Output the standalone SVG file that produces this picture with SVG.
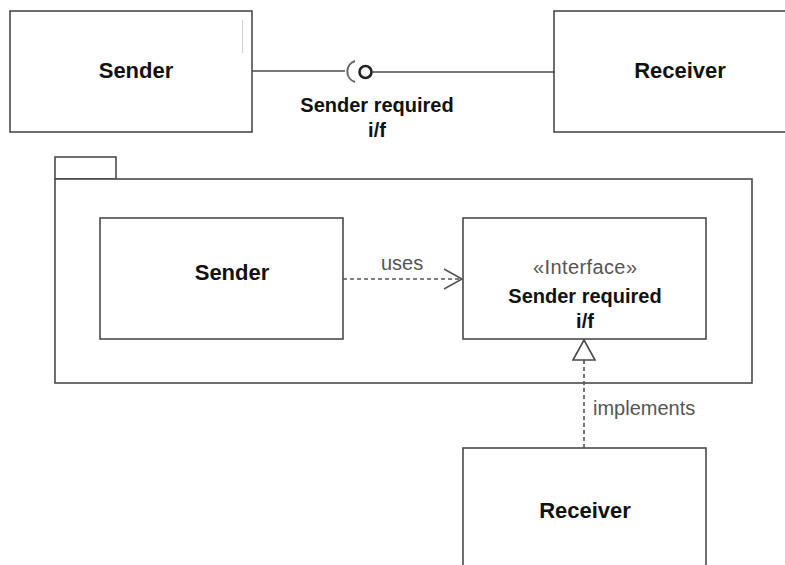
<svg xmlns="http://www.w3.org/2000/svg" width="785" height="565" viewBox="0 0 785 565">
  <style>
    .box { fill: #ffffff; stroke: #4a4a4a; stroke-width: 1.6; }
    .line { fill: none; stroke: #4a4a4a; stroke-width: 1.6; }
    .dash { fill: none; stroke: #555555; stroke-width: 1.6; stroke-dasharray: 4 3; }
    .name { font-family: "Liberation Sans", Arial, sans-serif; font-weight: bold; font-size: 22px; fill: #111111; text-anchor: middle; }
    .iface { font-family: "Liberation Sans", Arial, sans-serif; font-weight: bold; font-size: 20px; fill: #111111; text-anchor: middle; }
    .label { font-family: "Liberation Sans", Arial, sans-serif; font-size: 20px; fill: #555555; }
  </style>
  <defs>
    <marker id="open-arrow" markerWidth="22" markerHeight="24" refX="19" refY="11" orient="auto" markerUnits="userSpaceOnUse">
      <path d="M1,1 L19,11 L1,21" fill="none" stroke="#555555" stroke-width="1.6"/>
    </marker>
    <marker id="hollow-triangle" markerWidth="26" markerHeight="26" refX="21" refY="12" orient="auto" markerUnits="userSpaceOnUse">
      <path d="M1,1 L21,12 L1,23 Z" fill="#ffffff" stroke="#4a4a4a" stroke-width="1.6"/>
    </marker>
  </defs>
  <rect width="785" height="565" fill="#ffffff"/>

  <g id="sender-top">
    <rect class="box" x="10" y="11" width="242" height="121"/>
    <!-- faint vertical mark near the right edge -->
    <line x1="242.5" y1="20" x2="242.5" y2="53" stroke="#d0d0d0" stroke-width="1"/>
    <text class="name" x="136" y="78">Sender</text>
  </g>

  <g id="receiver-top">
    <rect class="box" x="554" y="11" width="250" height="121"/>
    <text class="name" x="680" y="78">Receiver</text>
  </g>

  <g id="required-label">
    <text class="iface" x="377" y="112">Sender required</text>
    <text class="iface" x="377" y="137">i/f</text>
  </g>

  <g id="package">
    <rect class="box" x="55" y="157" width="61" height="22"/>
    <rect class="box" x="55" y="179" width="697" height="204"/>
  </g>

  <g id="sender">
    <rect class="box" x="100" y="218" width="243" height="121"/>
    <text class="name" x="232" y="280">Sender</text>
  </g>

  <g id="interface">
    <rect class="box" x="463" y="218" width="243" height="121"/>
    <text class="label" x="585" y="274" text-anchor="middle" textLength="104">«Interface»</text>
    <text class="iface" x="585" y="303">Sender required</text>
    <text class="iface" x="585" y="328">i/f</text>
  </g>

  <g id="receiver">
    <rect class="box" x="463" y="448" width="243" height="130"/>
    <text class="name" x="585" y="518">Receiver</text>
  </g>

  <!-- connectors -->
  <g id="connectors">
    <!-- assembly connector: Sender requires, Receiver provides -->
    <line class="line" x1="252" y1="71" x2="345" y2="71"/>
    <path d="M355,61 A11,11 0 0 0 355,82" fill="none" stroke="#666666" stroke-width="2"/>
    <circle cx="365.5" cy="72" r="6" fill="#ffffff" stroke="#222222" stroke-width="2.6"/>
    <line class="line" x1="372" y1="72" x2="555" y2="72"/>
    <!-- dependency: uses -->
    <line class="dash" x1="343" y1="279" x2="462" y2="279" marker-end="url(#open-arrow)"/>
    <!-- realization: implements -->
    <line class="dash" x1="584" y1="448" x2="584" y2="340" marker-end="url(#hollow-triangle)"/>
  </g>

  <text class="label" x="381" y="270">uses</text>
  <text class="label" x="593" y="415">implements</text>
</svg>
